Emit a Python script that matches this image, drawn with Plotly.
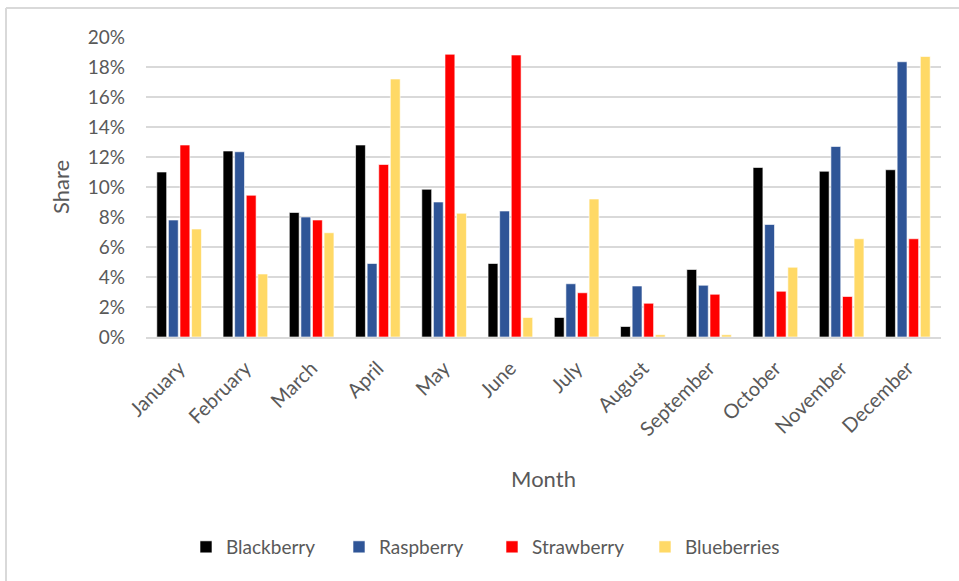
import plotly.graph_objects as go

months = ["January", "February", "March", "April", "May", "June", "July",
          "August", "September", "October", "November", "December"]
blackberry = [11.0, 12.4, 8.3, 12.8, 9.85, 4.9, 1.3, 0.7, 4.5, 11.3, 11.05, 11.15]
raspberry = [7.8, 12.35, 8.0, 4.9, 9.0, 8.4, 3.55, 3.4, 3.45, 7.5, 12.7, 18.35]
strawberry = [12.8, 9.45, 7.8, 11.5, 18.85, 18.8, 2.95, 2.25, 2.85, 3.05, 2.7, 6.55]
blueberries = [7.2, 4.2, 6.95, 17.2, 8.25, 1.3, 9.2, 0.15, 0.15, 4.65, 6.55, 18.7]
y_ticks = [0, 2, 4, 6, 8, 10, 12, 14, 16, 18, 20]
y_ticklabels = [f"{v}%" for v in y_ticks]

series = [
    ("Blackberry", blackberry, "#000000"),
    ("Raspberry", raspberry, "#2F5597"),
    ("Strawberry", strawberry, "#FF0000"),
    ("Blueberries", blueberries, "#FFD966"),
]

FONT = "Lato, 'Open Sans', sans-serif"
GRAY = "#595959"

fig = go.Figure()
for name, vals, color in series:
    fig.add_trace(go.Bar(
        x=months, y=vals, name=name,
        marker=dict(color=color, line=dict(color="white", width=0.6)),
    ))

W, H = 959, 581
L, R, T, B = 146, 18, 37, 244
PW, PH = W - L - R, H - T - B

def px(x):
    return (x - L) / PW

def py(y):
    return (H - B - y) / PH

fig.update_layout(
    width=W, height=H,
    margin=dict(l=L, r=R, t=T, b=B, autoexpand=False),
    paper_bgcolor="white", plot_bgcolor="white",
    barmode="group", bargap=0.3, bargroupgap=0.15,
    font=dict(family=FONT, color=GRAY, size=19),
    showlegend=True,
    legend=dict(
        orientation="h", x=px(186), xanchor="left", y=py(547), yanchor="middle",
        font=dict(size=19, color=GRAY), entrywidth=108, entrywidthmode="pixels",
        itemwidth=30, traceorder="normal",
    ),
    xaxis=dict(
        tickangle=-45, tickfont=dict(size=20, color=GRAY),
        showline=True, linecolor="#D9D9D9", linewidth=1.5,
        title=dict(text="Month", font=dict(size=22, color=GRAY), standoff=32),
        ticks="", showgrid=False, ticklabelstandoff=10, automargin=False,
    ),
    yaxis=dict(
        range=[0, 20], tickvals=y_ticks, ticktext=y_ticklabels,
        tickfont=dict(size=19, color=GRAY),
        showgrid=True, gridcolor="#D9D9D9", gridwidth=1.5,
        zeroline=False, ticks="", ticklabelstandoff=20, automargin=False,
        title=dict(text="Share", font=dict(size=22, color=GRAY), standoff=12),
    ),
    shapes=[
        dict(type="line", xref="paper", yref="paper", x0=px(6), x1=px(W + 5),
             y0=py(8), y1=py(8), line=dict(color="#D9D9D9", width=2)),
        dict(type="line", xref="paper", yref="paper", x0=px(6), x1=px(6),
             y0=py(8), y1=py(H + 5), line=dict(color="#D9D9D9", width=2)),
    ],
)

fig.write_html("out.html")
